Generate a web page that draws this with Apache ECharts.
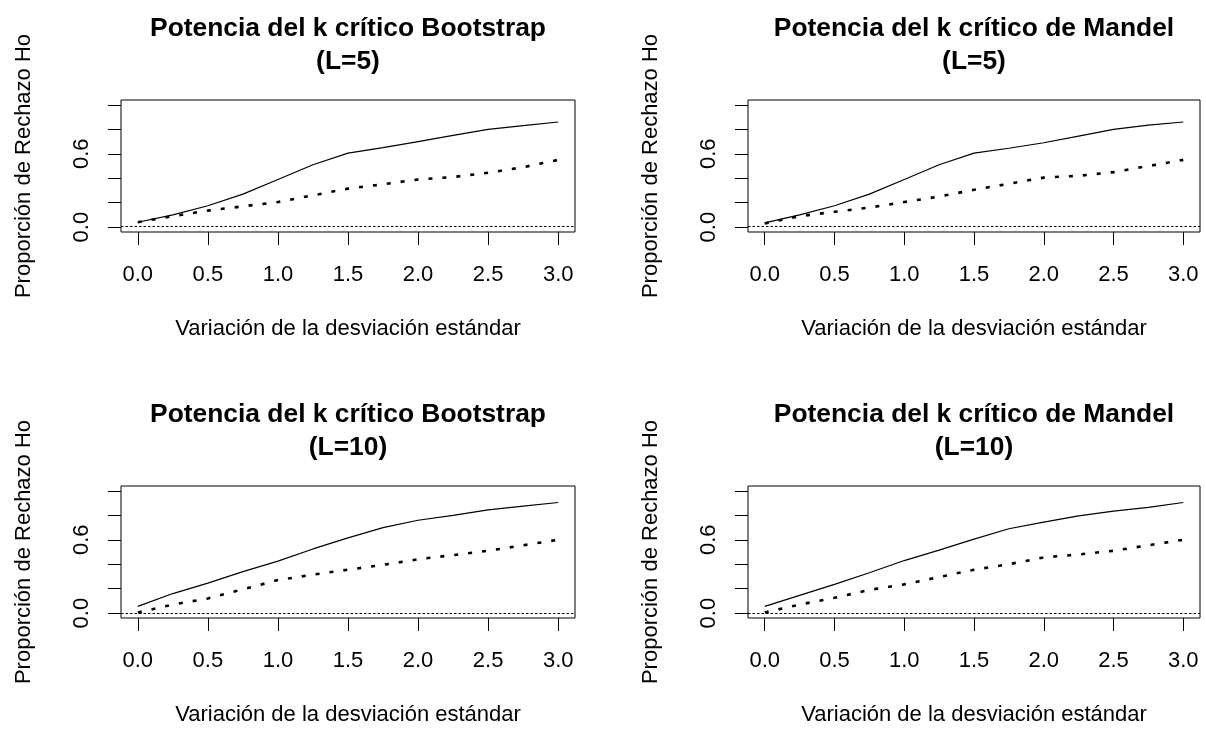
<!DOCTYPE html>
<html>
<head>
<meta charset="utf-8">
<script src="https://cdn.jsdelivr.net/npm/echarts@6/dist/echarts.min.js"></script>
<style>
  html, body { margin: 0; padding: 0; background: #ffffff; }
  #chart { width: 1206px; height: 730px; }
</style>
</head>
<body>
<div id="chart"></div>
<script>
// Standard-deviation shifts at which power was evaluated
const sdShift = [0, 0.25, 0.5, 0.75, 1, 1.25, 1.5, 1.75, 2, 2.25, 2.5, 2.75, 3];

// Axis ticks and labels
const xTicks = [0, 0.5, 1, 1.5, 2, 2.5, 3];
const yTicks = [0, 0.2, 0.4, 0.6, 0.8, 1];
const yTickLabels = [0, 0.6];

// Panel texts
const panelTitles = [
  'Potencia del k crítico Bootstrap\n(L=5)',
  'Potencia del k crítico de Mandel\n(L=5)',
  'Potencia del k crítico Bootstrap\n(L=10)',
  'Potencia del k crítico de Mandel\n(L=10)'
];
const xAxisTitle = 'Variación de la desviación estándar';
const yAxisTitle = 'Proporción de Rechazo Ho';

// Rejection proportions, solid curve and dotted curve per panel
const bootL5Solid   = [0.04, 0.10, 0.175, 0.27, 0.39, 0.51, 0.605, 0.65, 0.70, 0.75, 0.80, 0.83, 0.86];
const bootL5Dotted  = [0.04, 0.09, 0.135, 0.17, 0.205, 0.26, 0.315, 0.35, 0.39, 0.41, 0.445, 0.49, 0.55];
const mandL5Solid   = [0.035, 0.10, 0.175, 0.27, 0.39, 0.51, 0.605, 0.645, 0.69, 0.745, 0.80, 0.835, 0.86];
const mandL5Dotted  = [0.03, 0.09, 0.125, 0.16, 0.205, 0.25, 0.305, 0.355, 0.405, 0.42, 0.45, 0.50, 0.55];
const bootL10Solid  = [0.055, 0.16, 0.245, 0.34, 0.425, 0.525, 0.615, 0.70, 0.76, 0.80, 0.845, 0.875, 0.905];
const bootL10Dotted = [0.005, 0.07, 0.12, 0.195, 0.27, 0.315, 0.355, 0.395, 0.44, 0.475, 0.51, 0.555, 0.60];
const mandL10Solid  = [0.055, 0.145, 0.235, 0.33, 0.43, 0.515, 0.605, 0.69, 0.745, 0.795, 0.835, 0.865, 0.905];
const mandL10Dotted = [0.005, 0.07, 0.125, 0.19, 0.235, 0.295, 0.355, 0.40, 0.455, 0.48, 0.51, 0.555, 0.60];

// Horizontal reference level in each panel
const refLevels = [0.015, 0.015, 0, 0];

const solidSets  = [bootL5Solid, mandL5Solid, bootL10Solid, mandL10Solid];
const dottedSets = [bootL5Dotted, mandL5Dotted, bootL10Dotted, mandL10Dotted];

// Plot boxes (the full axis range of each panel)
const boxes = [
  { left: 121, top: 100, width: 454, height: 132 },
  { left: 748, top: 100, width: 452, height: 132 },
  { left: 121, top: 486, width: 454, height: 132 },
  { left: 748, top: 486, width: 452, height: 132 }
];

const FONT = "'Liberation Sans', Arial, Helvetica, sans-serif";
const pairs = vals => sdShift.map((x, i) => [x, vals[i]]);

const grids = [], xAxes = [], yAxes = [], series = [], graphics = [];

boxes.forEach((b, i) => {
  grids.push({
    left: b.left, top: b.top, width: b.width, height: b.height,
    show: true, borderColor: '#000', borderWidth: 1, backgroundColor: 'transparent'
  });
  xAxes.push({
    type: 'value', gridIndex: i, min: -0.12, max: 3.12, position: 'bottom',
    axisLine: { show: false, onZero: false },
    splitLine: { show: false },
    axisTick: { show: true, inside: false, customValues: xTicks, length: 13, lineStyle: { color: '#000', width: 1 } },
    axisLabel: {
      customValues: xTicks, formatter: v => v.toFixed(1),
      fontSize: 22, fontFamily: FONT, color: '#000', margin: 32
    }
  });
  yAxes.push({
    type: 'value', gridIndex: i, min: -0.04, max: 1.04, position: 'left',
    axisLine: { show: false, onZero: false },
    splitLine: { show: false },
    axisTick: { show: true, inside: false, customValues: yTicks, length: 13, lineStyle: { color: '#000', width: 1 } },
    axisLabel: {
      customValues: yTickLabels, formatter: v => v.toFixed(1), rotate: 90,
      fontSize: 22, fontFamily: FONT, color: '#000', margin: 28
    }
  });
  series.push({
    type: 'line', xAxisIndex: i, yAxisIndex: i, data: pairs(solidSets[i]),
    showSymbol: false, symbol: 'none', silent: true, animation: false,
    lineStyle: { color: '#000', width: 1.2, type: 'solid' },
    markLine: {
      silent: true, symbol: 'none', animation: false, label: { show: false },
      lineStyle: { color: '#000', width: 1, type: [2.5, 2] },
      data: [{ yAxis: refLevels[i] }]
    }
  });
  series.push({
    type: 'line', xAxisIndex: i, yAxisIndex: i, data: pairs(dottedSets[i]),
    showSymbol: false, symbol: 'none', silent: true, animation: false,
    lineStyle: { color: '#000', width: 2.6, type: [4, 10], cap: 'butt' }
  });

  const cx = b.left + b.width / 2;
  const cy = b.top + b.height / 2;
  graphics.push({
    type: 'text', x: cx, y: b.top - 88, silent: true,
    style: {
      text: panelTitles[i], fill: '#000', align: 'center', verticalAlign: 'top',
      font: "bold 26.4px " + FONT, lineHeight: 33
    }
  });
  graphics.push({
    type: 'text', x: cx, y: b.top + b.height + 97, silent: true,
    style: {
      text: xAxisTitle, fill: '#000', align: 'center', verticalAlign: 'middle',
      font: "22px " + FONT
    }
  });
  graphics.push({
    type: 'text', x: b.left - 97, y: cy, rotation: Math.PI / 2, silent: true,
    style: {
      text: yAxisTitle, fill: '#000', align: 'center', verticalAlign: 'middle',
      font: "22px " + FONT
    }
  });
});

const chart = echarts.init(document.getElementById('chart'), null, { renderer: 'canvas' });
chart.setOption({
  backgroundColor: '#ffffff',
  animation: false,
  grid: grids,
  xAxis: xAxes,
  yAxis: yAxes,
  series: series,
  graphic: graphics
});
</script>
</body>
</html>
